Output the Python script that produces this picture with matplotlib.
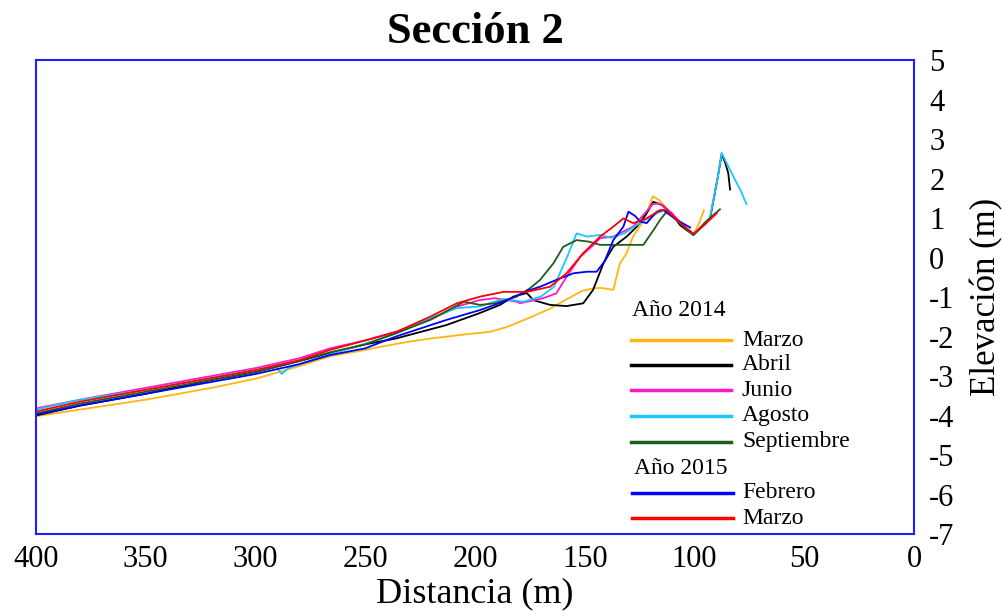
import matplotlib.pyplot as plt
from matplotlib.lines import Line2D

# 1. Profile data: distance (m) and elevation (m) for each survey
marzo14_d = [400, 380, 350, 320, 300, 280, 266, 250, 243, 230, 220, 205, 193, 185, 175, 166, 158,
             151, 146, 143, 139, 137, 134, 131, 128, 123, 119, 116, 112, 106, 100.5, 98, 95.7]
marzo14_e = [-4.02, -3.85, -3.6, -3.3, -3.07, -2.75, -2.5, -2.34, -2.26, -2.13, -2.05, -1.95, -1.88,
             -1.75, -1.52, -1.3, -1.05, -0.84, -0.78, -0.77, -0.8, -0.82, -0.15, 0.1, 0.53, 0.95,
             1.55, 1.45, 1.2, 0.8, 0.58, 0.85, 1.2]

abril14_d = [400, 380, 350, 320, 300, 280, 266, 250, 236, 213, 198, 188.6, 182.5, 176.4, 173.4,
             165.8, 158.3, 150.7, 146.2, 141.5, 137, 130.9, 126.3, 121.8, 118.8, 114.9, 110, 106.6,
             100.5, 96, 92.9, 89.5, 87.6, 86, 84.6, 83.8]
abril14_e = [-4.0, -3.75, -3.45, -3.1, -2.9, -2.62, -2.42, -2.2, -2.05, -1.71, -1.41, -1.2, -0.99,
             -0.9, -1.08, -1.2, -1.23, -1.16, -0.82, -0.15, 0.27, 0.53, 0.78, 1.12, 1.41, 1.33, 1.1,
             0.82, 0.57, 0.8, 0.99, 2.0, 2.62, 2.4, 2.13, 1.72]

junio14_d = [400, 380, 350, 320, 300, 280, 266, 250, 236, 220.5, 208, 198, 191, 181, 179.5, 169,
             163, 158.3, 152, 146, 143, 137, 128, 119, 116, 110, 104, 100.5, 97]
junio14_e = [-3.82, -3.6, -3.3, -3.0, -2.8, -2.55, -2.3, -2.1, -1.88, -1.58, -1.24, -1.08, -1.03,
             -1.12, -1.16, -1.03, -0.91, -0.49, 0.02, 0.32, 0.49, 0.53, 0.78, 1.35, 1.37, 1.1, 0.75,
             0.6, 0.75]

agosto14_d = [400, 380, 350, 320, 300, 291, 288, 285, 280, 266, 250, 236, 220.5, 208, 198, 187,
              178, 170, 164, 158, 153.7, 149, 143, 138, 132, 125, 117, 114, 108, 100.5, 96, 93,
              89.5, 87.6, 85, 82.3, 79, 76.3]
agosto14_e = [-3.85, -3.6, -3.35, -3.05, -2.85, -2.75, -2.95, -2.8, -2.7, -2.45, -2.18, -1.92,
              -1.54, -1.28, -1.24, -1.05, -1.12, -0.99, -0.74, 0.02, 0.61, 0.53, 0.57, 0.5, 0.61,
              0.87, 1.12, 1.2, 0.95, 0.57, 0.8, 1.0, 2.0, 2.65, 2.35, 2.05, 1.7, 1.35]

sept14_d = [400, 380, 350, 320, 300, 280, 266, 250, 236, 220.5, 205, 197.7, 191, 181, 175, 170.4,
            164.3, 159.8, 153.7, 148, 143, 135, 123.3, 118, 115.7, 112.7, 106, 100.5, 95, 88.4]
sept14_e = [-3.95, -3.7, -3.4, -3.1, -2.9, -2.62, -2.4, -2.2, -1.92, -1.58, -1.12, -1.2, -1.16,
            -0.99, -0.78, -0.57, -0.15, 0.27, 0.44, 0.4, 0.32, 0.32, 0.32, 0.75, 0.95, 1.16, 0.85,
            0.57, 0.9, 1.22]

feb15_d = [400, 380, 350, 320, 300, 280, 266, 250, 236, 213, 197.7, 187, 176.4, 170.4, 161.3,
           155.2, 149, 144.6, 141, 137, 132.4, 130.1, 127, 124.8, 121.8, 117.2, 114.2, 108, 102]
feb15_e = [-3.98, -3.75, -3.45, -3.15, -2.95, -2.7, -2.47, -2.3, -2.0, -1.58, -1.33, -1.12, -0.85,
           -0.74, -0.53, -0.4, -0.36, -0.36, -0.1, 0.44, 0.78, 1.16, 1.05, 0.91, 0.87, 1.16, 1.2,
           0.95, 0.76]

marzo15_d = [400, 380, 350, 320, 300, 280, 266, 250, 235.7, 220.5, 208.3, 197.7, 187, 176.4, 165.8,
             158.3, 150.7, 143, 137, 132.4, 127.9, 121.8, 115.7, 112.7, 106, 100.5, 95, 89.9]
marzo15_e = [-3.9, -3.65, -3.35, -3.05, -2.85, -2.6, -2.34, -2.1, -1.88, -1.5, -1.16, -0.99, -0.87,
             -0.87, -0.74, -0.4, 0.11, 0.53, 0.78, 0.99, 0.87, 0.99, 1.2, 1.2, 0.85, 0.6, 0.85, 1.12]

labels_2014 = ["Marzo", "Abril", "Junio", "Agosto", "Septiembre"]
labels_2015 = ["Febrero", "Marzo"]
colors_2014 = ["#FFB612", "#000000", "#FF1AC6", "#1AC8FF", "#1E5C1E"]
colors_2015 = ["#0000FF", "#FF0000"]

series_2014 = [(marzo14_d, marzo14_e), (abril14_d, abril14_e), (junio14_d, junio14_e),
               (agosto14_d, agosto14_e), (sept14_d, sept14_e)]
series_2015 = [(feb15_d, feb15_e), (marzo15_d, marzo15_e)]

# 2. Figure and axes
plt.rcParams['font.family'] = ['Liberation Serif', 'DejaVu Serif']
plt.rcParams['axes.unicode_minus'] = False
fig = plt.figure(figsize=(10.03, 6.11), dpi=100)
ax = fig.add_axes([36 / 1003, 1 - 534 / 611, 878 / 1003, 474 / 611])

for (d, e), c in zip(series_2014 + series_2015, colors_2014 + colors_2015):
    ax.plot(d, e, color=c, lw=1.3)

ax.set_xlim(400, 0)
ax.set_ylim(-7, 5)
ax.set_xticks(range(400, -1, -50))
ax.set_yticks(range(-7, 6))
ax.yaxis.tick_right()
ax.yaxis.set_label_position('right')
ax.tick_params(axis='both', length=0, labelsize=22)
ax.tick_params(axis='x', pad=8)
ax.tick_params(axis='y', pad=11)
for sp in ax.spines.values():
    sp.set_color('#2020FF')
    sp.set_linewidth(1.5)

ax.set_xlabel("Distancia (m)", fontsize=26, labelpad=2)
ax.set_ylabel("Elevación (m)", fontsize=25)
ax.yaxis.set_label_coords(1.064, 0.5)
ax.set_title("Sección 2", fontsize=32, fontweight='bold', pad=12)

# 3. Legend built by hand (two year groups)
def px(x, y):
    return x / 1003, 1 - y / 611

fig.text(*px(632, 310), "Año 2014", fontsize=17, va='center', ha='left')
rows_2014 = [340, 365, 390, 416, 442]
for y, lab, c in zip(rows_2014, labels_2014, colors_2014):
    x0, y0 = px(631, y)
    x1, _ = px(731, y)
    fig.add_artist(Line2D([x0, x1], [y0, y0], color=c, lw=2.5, transform=fig.transFigure))
    fig.text(*px(742, y), lab, fontsize=17, va='center', ha='left')

fig.text(*px(634, 468), "Año 2015", fontsize=17, va='center', ha='left')
rows_2015 = [493, 518]
for y, lab, c in zip(rows_2015, labels_2015, colors_2015):
    x0, y0 = px(632, y)
    x1, _ = px(733, y)
    fig.add_artist(Line2D([x0, x1], [y0, y0], color=c, lw=2.5, transform=fig.transFigure))
    fig.text(*px(742, y), lab, fontsize=17, va='center', ha='left')

fig.savefig("out.png", dpi=100)
